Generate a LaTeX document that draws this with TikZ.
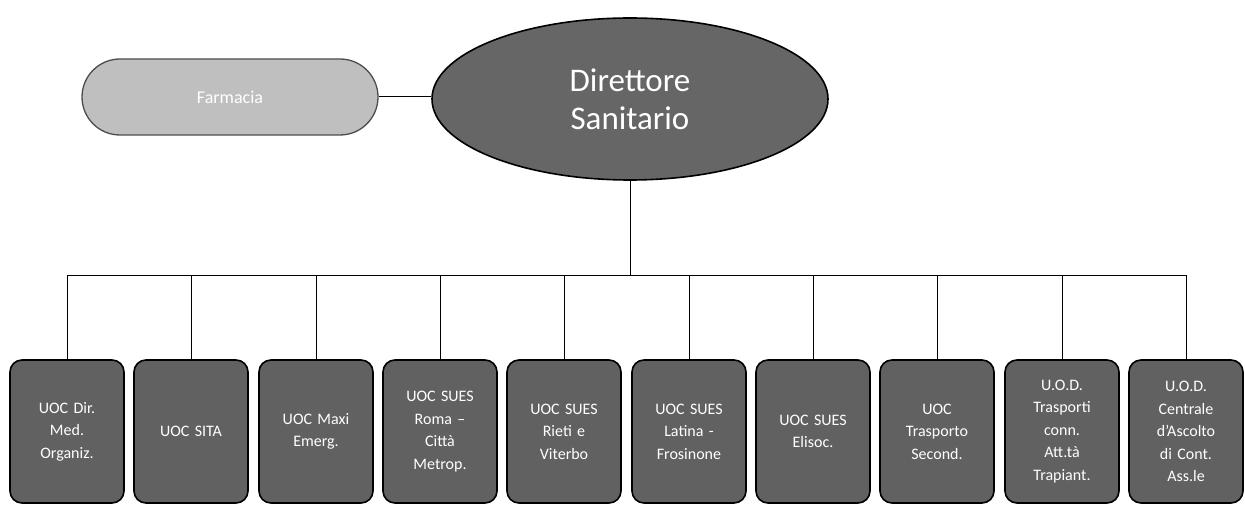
\documentclass[tikz,border=0pt]{standalone}
\usepackage{fontspec}
\setmainfont{Carlito}
\usetikzlibrary{shapes.geometric}
\begin{document}
\begin{tikzpicture}[x=1pt,y=-1pt,
  unitbox/.style={draw=black, line width=1.6pt, fill=black!62, rounded corners=12pt,
    minimum width=114pt, minimum height=143pt, inner sep=2pt, text=white,
    align=center, text width=110pt, font=\fontsize{16}{22.5}\selectfont},
  dirbox/.style={ellipse, draw=black, line width=1.6pt, fill=black!60,
    minimum width=396pt, minimum height=162pt, inner sep=0pt, text=white,
    align=center, font=\fontsize{33}{38}\selectfont},
  pillbox/.style={draw=black!70, line width=1.3pt, fill=black!25, rounded corners=38pt,
    minimum width=296pt, minimum height=76pt, inner sep=0pt, text=white,
    font=\fontsize{18}{22}\selectfont},
  link/.style={draw=black, line width=1pt}]
\useasboundingbox (0,0) rectangle (1245,505);
\node[dirbox] (dir) at (630,99) {Direttore\\Sanitario};
\node[pillbox] (farm) at (230,97) {Farmacia};
\draw[link] (farm.east) -- (farm.east -| dir.west);
\coordinate (bar) at (630,275);
\draw[link] (dir.south) -- (bar);
\foreach \i/\x/\t in {
  1/67/{UOC Dir.\\Med.\\Organiz.},
  2/191/{UOC SITA},
  3/316/{UOC Maxi\\Emerg.},
  4/440/{UOC SUES\\Roma –\\Città\\Metrop.},
  5/564/{UOC SUES\\Rieti e\\Viterbo},
  6/689/{UOC SUES\\Latina -\\Frosinone},
  7/813/{UOC SUES\\Elisoc.},
  8/937/{UOC\\Trasporto\\Second.},
  9/1062/{U.O.D.\\Trasporti\\conn.\\Att.tà\\Trapiant.},
  10/1186/{U.O.D.\\Centrale\\d’Ascolto\\di Cont.\\Ass.le}}{
  \node[unitbox] (b\i) at (\x,431.5) {\t};
  \draw[link] (bar) -| (b\i.north);
}
\end{tikzpicture}
\end{document}
